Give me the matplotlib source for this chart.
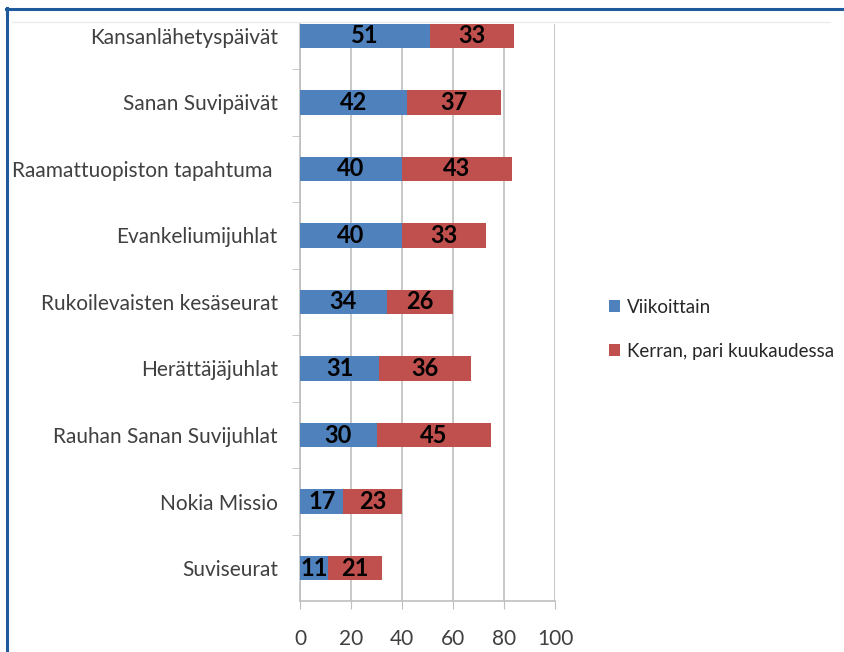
import matplotlib.pyplot as plt
from matplotlib.lines import Line2D
from matplotlib.ticker import FixedLocator

# =========================
# DATA (top of chart first)
# =========================

categories = ["Kansanlähetyspäivät", "Sanan Suvipäivät", "Raamattuopiston tapahtuma ",
              "Evankeliumijuhlat", "Rukoilevaisten kesäseurat", "Herättäjäjuhlat",
              "Rauhan Sanan Suvijuhlat", "Nokia Missio", "Suviseurat"]
viikoittain = [51, 42, 40, 40, 34, 31, 30, 17, 11]
kerran = [33, 37, 43, 33, 26, 36, 45, 23, 21]
series_names = ["Viikoittain", "Kerran, pari kuukaudessa"]
xticks = [0, 20, 40, 60, 80, 100]

BLUE = "#4F81BD"
RED = "#C0504D"
GRID = "#BFBFBF"

plt.rcParams["font.family"] = ["Lato", "DejaVu Sans"]

W, H = 844, 652
fig = plt.figure(figsize=(W / 100, H / 100), dpi=100)
ax = fig.add_axes([300 / W, 1 - 601 / H, 255 / W, (601 - 24) / H])

# bottom category at y=0
n = len(categories)
ypos = list(range(n - 1, -1, -1))

ax.barh(ypos, viikoittain, height=0.37, color=BLUE, label=series_names[0], zorder=3)
ax.barh(ypos, kerran, left=viikoittain, height=0.37, color=RED, label=series_names[1], zorder=3)

for y, a, b in zip(ypos, viikoittain, kerran):
    ax.text(a / 2, y, str(a), ha="center", va="center", fontsize=17,
            fontweight="bold", color="black", zorder=4)
    ax.text(a + b / 2, y, str(b), ha="center", va="center", fontsize=17,
            fontweight="bold", color="black", zorder=4)

ax.set_xlim(0, 100)
ax.set_ylim(-0.496, 8.18)

ax.set_xticks(xticks)
ax.set_yticks(ypos)
ax.set_yticklabels(categories)
ax.yaxis.set_minor_locator(FixedLocator([i - 0.5 for i in range(n)]))

ax.tick_params(axis="y", which="major", length=0, pad=16, labelsize=15, labelcolor="#404040")
ax.tick_params(axis="y", which="minor", length=6, color=GRID, direction="out")
ax.tick_params(axis="x", length=6, color=GRID, pad=14, labelsize=15, labelcolor="#404040")

ax.grid(axis="x", color=GRID, linewidth=1.2, zorder=0)
for side in ["top", "right"]:
    ax.spines[side].set_visible(False)
for side in ["left", "bottom"]:
    ax.spines[side].set_color(GRID)
    ax.spines[side].set_linewidth(1.2)

leg = ax.legend(loc="upper left", bbox_to_anchor=(592 / W, 1 - 282 / H),
                bbox_transform=fig.transFigure, frameon=False, fontsize=13.5,
                handlelength=0.6, handleheight=0.6, handletextpad=0.35,
                labelspacing=1.45)
for t in leg.get_texts():
    t.set_color("#262626")

# frame lines around the picture
fig.add_artist(Line2D([12 / W, 830 / W], [1 - 22 / H, 1 - 22 / H], color="#EBEBEB", lw=1))
fig.add_artist(Line2D([6 / W, 1], [1 - 9 / H, 1 - 9 / H], color="#1F5A9C", lw=2.2))
fig.add_artist(Line2D([7 / W, 7 / W], [0, 1 - 8 / H], color="#1F5A9C", lw=2.2))

fig.savefig("out.png", dpi=100)
